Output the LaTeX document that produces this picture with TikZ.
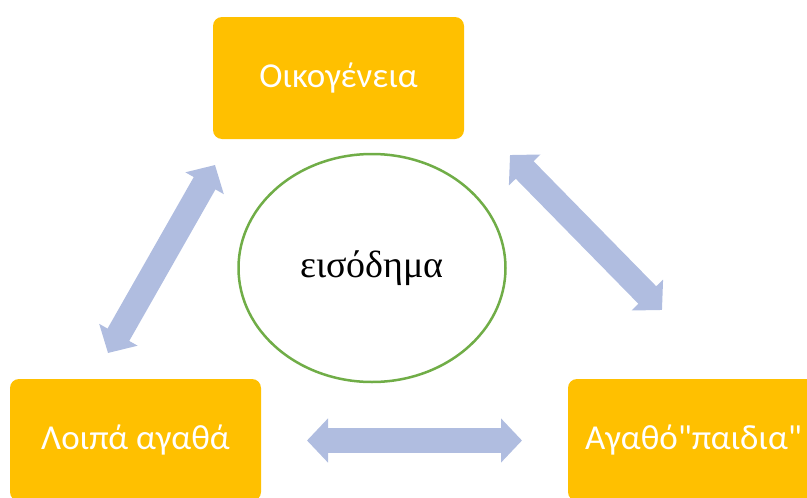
\documentclass[tikz,border=0pt]{standalone}
\usepackage{fontspec}
\setmainfont{Liberation Serif}
\newfontfamily\boxfont{Carlito}
\usepackage{tikz}
\usetikzlibrary{arrows.meta,positioning,shapes.geometric,calc}
\definecolor{boxgold}{RGB}{255,192,0}
\definecolor{arrowblue}{RGB}{176,189,224}
\definecolor{ringgreen}{RGB}{112,173,71}
\tikzstyle{goodbox}=[rectangle, fill=boxgold, rounded corners=9pt,
  minimum width=251pt, minimum height=122pt, text=white,
  font=\boxfont\fontsize{35}{42}\selectfont]
\tikzstyle{income}=[ellipse, draw=ringgreen, line width=2.5pt, fill=white,
  minimum width=267pt, minimum height=228pt, inner sep=0pt,
  font=\fontsize{38}{44}\selectfont]
\tikzstyle{line}=[draw, color=arrowblue, line width=25pt,
  {Triangle[width=43pt,length=21pt]}-{Triangle[width=43pt,length=21pt]}]
\newcommand{\goodbox}[2]{node (p#1)[goodbox]{#2}}

\begin{document}
\begin{tikzpicture}[x=1pt,y=-1pt]
	\useasboundingbox (0,0) rectangle (807,498);
	\clip (0,0) rectangle (807,498);

	% boxes and the ring
	\path (338.5,78) \goodbox{1}{Οικογένεια};
	\path (135.5,440) \goodbox{2}{Λοιπά αγαθά};
	\path (693.5,440) \goodbox{3}{Αγαθό"παιδια"};
	\node (inc) [income] at (372,268) {εισόδημα};

	% arrow ends
	\coordinate (l1) at (215,165);
	\coordinate (l2) at (108,353);
	\coordinate (r1) at (510,155);
	\coordinate (r2) at (662,310);
	\coordinate (b1) at (307,440.5);
	\coordinate (b2) at (522,440.5);

	% arrows
	\path [line] (l1) -- (l2);
	\path [line] (r1) -- (r2);
	\path [line] (b1) -- (b2);
\end{tikzpicture}
\end{document}
